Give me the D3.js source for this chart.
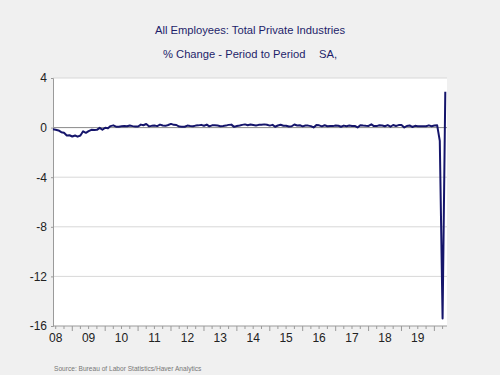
<!DOCTYPE html>
<html>
<head>
<meta charset="utf-8">
<script src="https://cdn.jsdelivr.net/npm/d3@7"></script>
<style>
  body { margin: 0; background: #f0f0f0; }
  svg { display: block; font-family: "Liberation Sans", Arial, sans-serif; }
</style>
</head>
<body>
<script>
// monthly % change, Jun 2008 .. May 2020
const startMonth = "2008-06";
const pctChange = [
  // 2008 Jun-Dec
  -0.13, -0.17, -0.23, -0.37, -0.41, -0.63, -0.62,
  // 2009
  -0.72, -0.64, -0.73, -0.64, -0.30, -0.42, -0.28, -0.18, -0.20, -0.18, -0.02, -0.17,
  // 2010
  -0.01, -0.06, 0.12, 0.18, 0.07, 0.07, 0.10, 0.13, 0.11, 0.17, 0.12, 0.08,
  // 2011
  0.09, 0.24, 0.19, 0.29, 0.10, 0.14, 0.17, 0.12, 0.24, 0.17, 0.14, 0.21,
  // 2012
  0.30, 0.22, 0.21, 0.08, 0.06, 0.07, 0.16, 0.13, 0.11, 0.16, 0.18, 0.22,
  // 2013
  0.15, 0.24, 0.10, 0.18, 0.19, 0.17, 0.11, 0.13, 0.16, 0.22, 0.24, 0.06,
  // 2014
  0.13, 0.17, 0.22, 0.26, 0.19, 0.25, 0.21, 0.17, 0.22, 0.23, 0.26, 0.23,
  // 2015
  0.16, 0.22, 0.07, 0.17, 0.23, 0.15, 0.15, 0.09, 0.11, 0.25, 0.17, 0.19,
  // 2016
  0.10, 0.17, 0.16, 0.12, 0.01, 0.20, 0.18, 0.10, 0.19, 0.11, 0.12, 0.12,
  // 2017
  0.17, 0.15, 0.07, 0.16, 0.11, 0.17, 0.13, 0.13, 0.01, 0.19, 0.16, 0.14,
  // 2018
  0.13, 0.26, 0.12, 0.12, 0.19, 0.17, 0.11, 0.20, 0.07, 0.21, 0.13, 0.20,
  // 2019
  0.21, 0.01, 0.13, 0.17, 0.05, 0.14, 0.11, 0.11, 0.10, 0.11, 0.18, 0.11,
  // 2020 Jan-May
  0.17, 0.18, -1.07, -15.4, 2.9
];
const yTicks = [4, 0, -4, -8, -12, -16];
const yearLabels = ["08", "09", "10", "11", "12", "13", "14", "15", "16", "17", "18", "19"];

const titleText = "All Employees: Total Private Industries";
const subtitleText = "% Change - Period to Period";
const saText = "SA,";
const sourceText = "Source:   Bureau of Labor Statistics/Haver Analytics";

const w = 500, h = 375;
const plotLeft = 53, plotRight = 447, plotTop = 78, plotBottom = 326;
const lineColour = "#15156b";
const textColour = "#1e1e6a";

const parseMonth = d3.timeParse("%Y-%m");
const start = parseMonth(startMonth);
const data = pctChange.map((v, i) => ({ date: d3.timeMonth.offset(start, i), value: v }));

const xScale = d3.scaleTime()
    .domain([start, new Date(2020, 4, 20)])
    .range([plotLeft, plotRight]);

const yScale = d3.scaleLinear()
    .domain([-16, 4])
    .range([plotBottom, plotTop]);

const svg = d3.select("body")
    .append("svg")
    .attr("width", w)
    .attr("height", h);

svg.append("rect")
    .attr("width", w)
    .attr("height", h)
    .attr("fill", "#f0f0f0");

// titles
svg.append("text")
    .attr("x", 250)
    .attr("y", 34)
    .attr("text-anchor", "middle")
    .attr("font-size", 11.2)
    .attr("fill", textColour)
    .text(titleText);

svg.append("text")
    .attr("x", 163)
    .attr("y", 58)
    .attr("font-size", 11.2)
    .attr("fill", textColour)
    .text(subtitleText);

svg.append("text")
    .attr("x", 319)
    .attr("y", 58)
    .attr("font-size", 11.2)
    .attr("fill", textColour)
    .text(saText);

// plot area
svg.append("rect")
    .attr("x", plotLeft)
    .attr("y", plotTop)
    .attr("width", plotRight - plotLeft)
    .attr("height", plotBottom - plotTop)
    .attr("fill", "#ffffff");

// grid lines
svg.append("g")
    .selectAll("line")
    .data(yTicks.filter(t => t !== -16))
    .enter()
    .append("line")
        .attr("x1", plotLeft)
        .attr("x2", plotRight)
        .attr("y1", d => yScale(d))
        .attr("y2", d => yScale(d))
        .attr("stroke", d => d === 0 ? "#8a8a8a" : "#d8d8d8")
        .attr("stroke-width", 1);

// y axis
const yAxis = d3.axisLeft(yScale)
    .tickValues(yTicks)
    .tickSize(2)
    .tickPadding(4)
    .tickFormat(d3.format("d"));

const yG = svg.append("g")
    .attr("transform", "translate(" + plotLeft + ",0)")
    .call(yAxis);
yG.select(".domain").attr("stroke", "#9a9a9a");
yG.selectAll(".tick line").attr("stroke", "#9a9a9a");
yG.selectAll("text")
    .attr("font-size", 12)
    .attr("fill", "#222")
    .attr("font-family", "Liberation Sans, Arial, sans-serif")
    .text(d => d < 0 ? "-" + Math.abs(d) : d);

// x axis: quarterly minor ticks, year labels centred in each year
const xG = svg.append("g")
    .attr("transform", "translate(0," + plotBottom + ")");

xG.append("line")
    .attr("x1", plotLeft)
    .attr("x2", plotRight)
    .attr("stroke", "#9a9a9a");

const quarterTicks = d3.timeMonth.every(3).range(start, new Date(2020, 4, 20));
xG.selectAll(".qtick")
    .data(quarterTicks)
    .enter()
    .append("line")
        .attr("class", "qtick")
        .attr("x1", d => xScale(d))
        .attr("x2", d => xScale(d))
        .attr("y1", 0)
        .attr("y2", d => d.getMonth() === 0 ? 5 : 3)
        .attr("stroke", "#9a9a9a");

xG.selectAll(".ylabel")
    .data(yearLabels)
    .enter()
    .append("text")
        .attr("class", "ylabel")
        .attr("x", d => xScale(new Date(2000 + (+d), 6, 1)))
        .attr("y", 16)
        .attr("text-anchor", "middle")
        .attr("font-size", 12)
        .attr("fill", "#222")
        .text(d => d);

// series line
const line = d3.line()
    .x(d => xScale(d.date))
    .y(d => yScale(d.value));

svg.append("path")
    .datum(data)
    .attr("d", line)
    .attr("fill", "none")
    .attr("stroke", lineColour)
    .attr("stroke-width", 2)
    .attr("stroke-linejoin", "round");

// source
svg.append("text")
    .attr("x", 54)
    .attr("y", 371)
    .attr("font-size", 6.6)
    .attr("fill", "#777")
    .text(sourceText);
</script>
</body>
</html>
